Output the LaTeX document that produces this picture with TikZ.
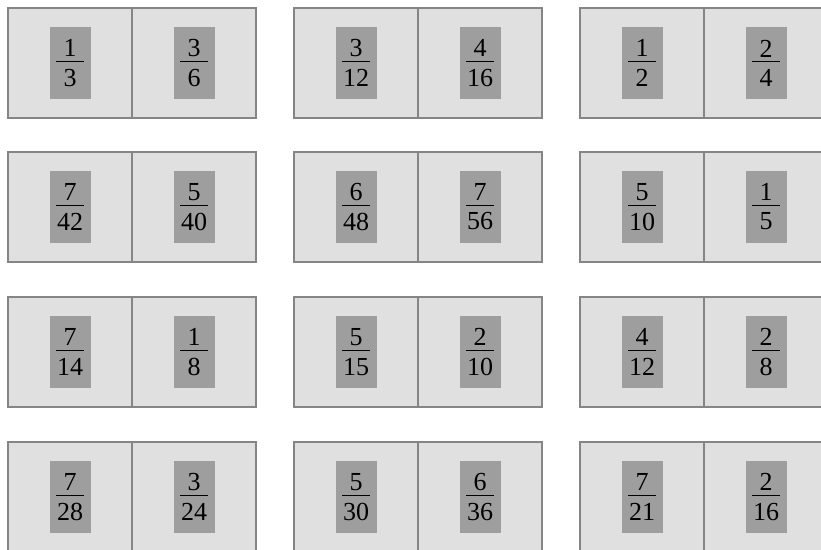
\documentclass[tikz,border=0pt]{standalone}
\usepackage{fontspec}
\setmainfont{Liberation Serif}
\usepackage{tikz}

% fraction with a bar of fixed width
\newcommand{\fr}[2]{\vbox{\hbox to 28pt{\hss#1\hss}\kern4pt\hrule height 1pt\kern7pt\hbox to 28pt{\hss#2\hss}}}

\begin{document}
\begin{tikzpicture}[
  x=1pt, y=-1pt,
  domino/.style={draw=black!48, line width=2.4pt, fill=black!12, minimum width=248pt, minimum height=110pt, inner sep=0pt},
  half/.style={fill=black!38, minimum width=41pt, minimum height=72pt, inner sep=0pt, font=\fontsize{26}{28}\selectfont},
  split/.style={draw=black!48, line width=2.4pt}
]
  \useasboundingbox (0,0) rectangle (821,549);
  \clip (0,0) rectangle (821,549);
  % row 1
  \node[domino] (d11) at (132,63) {};
  \draw[split] (d11.north) -- (d11.south);
  \node[half] (d11l) at ([xshift=-62pt]d11.center) {\fr{1}{3}};
  \node[half] (d11r) at ([xshift=62pt]d11.center) {\fr{3}{6}};
  \node[domino] (d12) at (418,63) {};
  \draw[split] (d12.north) -- (d12.south);
  \node[half] (d12l) at ([xshift=-62pt]d12.center) {\fr{3}{12}};
  \node[half] (d12r) at ([xshift=62pt]d12.center) {\fr{4}{16}};
  \node[domino] (d13) at (704,63) {};
  \draw[split] (d13.north) -- (d13.south);
  \node[half] (d13l) at ([xshift=-62pt]d13.center) {\fr{1}{2}};
  \node[half] (d13r) at ([xshift=62pt]d13.center) {\fr{2}{4}};
  % row 2
  \node[domino] (d21) at (132,207) {};
  \draw[split] (d21.north) -- (d21.south);
  \node[half] (d21l) at ([xshift=-62pt]d21.center) {\fr{7}{42}};
  \node[half] (d21r) at ([xshift=62pt]d21.center) {\fr{5}{40}};
  \node[domino] (d22) at (418,207) {};
  \draw[split] (d22.north) -- (d22.south);
  \node[half] (d22l) at ([xshift=-62pt]d22.center) {\fr{6}{48}};
  \node[half] (d22r) at ([xshift=62pt]d22.center) {\fr{7}{56}};
  \node[domino] (d23) at (704,207) {};
  \draw[split] (d23.north) -- (d23.south);
  \node[half] (d23l) at ([xshift=-62pt]d23.center) {\fr{5}{10}};
  \node[half] (d23r) at ([xshift=62pt]d23.center) {\fr{1}{5}};
  % row 3
  \node[domino] (d31) at (132,352) {};
  \draw[split] (d31.north) -- (d31.south);
  \node[half] (d31l) at ([xshift=-62pt]d31.center) {\fr{7}{14}};
  \node[half] (d31r) at ([xshift=62pt]d31.center) {\fr{1}{8}};
  \node[domino] (d32) at (418,352) {};
  \draw[split] (d32.north) -- (d32.south);
  \node[half] (d32l) at ([xshift=-62pt]d32.center) {\fr{5}{15}};
  \node[half] (d32r) at ([xshift=62pt]d32.center) {\fr{2}{10}};
  \node[domino] (d33) at (704,352) {};
  \draw[split] (d33.north) -- (d33.south);
  \node[half] (d33l) at ([xshift=-62pt]d33.center) {\fr{4}{12}};
  \node[half] (d33r) at ([xshift=62pt]d33.center) {\fr{2}{8}};
  % row 4
  \node[domino] (d41) at (132,497) {};
  \draw[split] (d41.north) -- (d41.south);
  \node[half] (d41l) at ([xshift=-62pt]d41.center) {\fr{7}{28}};
  \node[half] (d41r) at ([xshift=62pt]d41.center) {\fr{3}{24}};
  \node[domino] (d42) at (418,497) {};
  \draw[split] (d42.north) -- (d42.south);
  \node[half] (d42l) at ([xshift=-62pt]d42.center) {\fr{5}{30}};
  \node[half] (d42r) at ([xshift=62pt]d42.center) {\fr{6}{36}};
  \node[domino] (d43) at (704,497) {};
  \draw[split] (d43.north) -- (d43.south);
  \node[half] (d43l) at ([xshift=-62pt]d43.center) {\fr{7}{21}};
  \node[half] (d43r) at ([xshift=62pt]d43.center) {\fr{2}{16}};
\end{tikzpicture}
\end{document}
